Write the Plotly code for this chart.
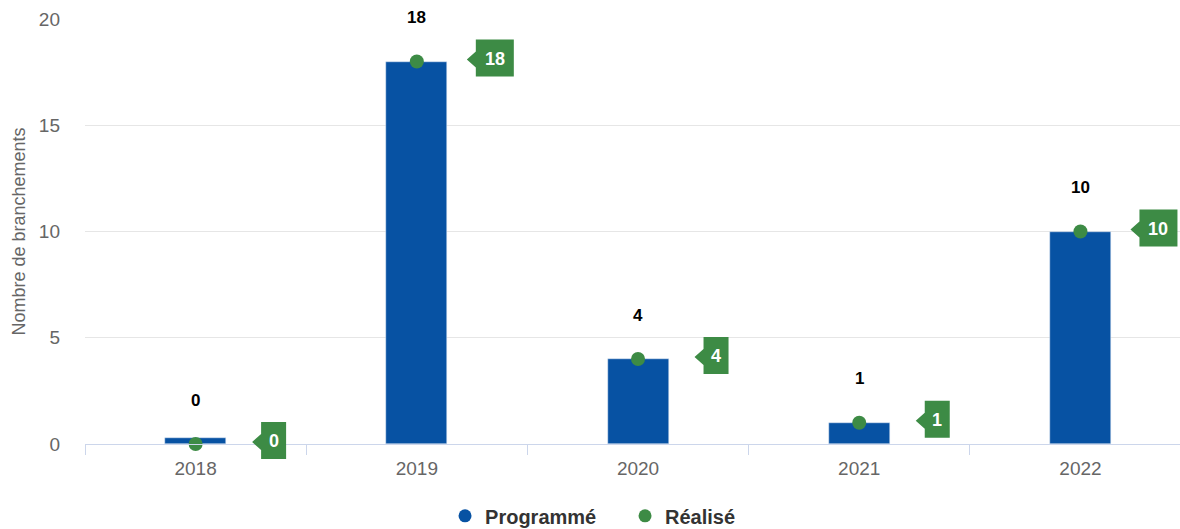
import plotly.graph_objects as go

annees = ["2018", "2019", "2020", "2021", "2022"]
programme = [0, 18, 4, 1, 10]
realise = [0, 18, 4, 1, 10]

bleu = "#0752a3"
vert = "#3d8b45"
police = "Liberation Sans, Arial, sans-serif"

pos = list(range(len(annees)))
x_range = [-0.5, 4.45]
y_range = [0, 20]
# barre minimale visible pour les valeurs nulles (comme Highcharts)
hauteurs = [max(v, 0.3) for v in programme]

fig = go.Figure()

fig.add_trace(go.Bar(
    x=pos, y=hauteurs, name="Programmé", marker_color=bleu,
    width=0.276, showlegend=False, hoverinfo="skip",
))

fig.add_trace(go.Scatter(
    x=pos, y=realise, name="Réalisé", mode="markers",
    marker=dict(color=vert, size=14), showlegend=False, cliponaxis=False,
))

# entrées de légende (symboles ronds)
fig.add_trace(go.Scatter(x=[None], y=[None], mode="markers", name="Programmé",
                         marker=dict(color=bleu, size=13)))
fig.add_trace(go.Scatter(x=[None], y=[None], mode="markers", name="Réalisé",
                         marker=dict(color=vert, size=13)))

for p, v in zip(pos, realise):
    # étiquette noire au-dessus du point
    fig.add_annotation(x=p, y=v, text=f"<b>{v}</b>", showarrow=False, yshift=44,
                       font=dict(family=police, size=17, color="#000000"))
    # étiquette en drapeau à droite du point (repère papier : pas de rognage)
    w = 25 if len(str(v)) == 1 else 38
    x0 = 78 - w / 2
    x1 = 78 + w / 2
    path = (f"M{x0 - 9},2L{x0},10L{x0},22L{x1},22L{x1},-15"
            f"L{x0},-15L{x0},-6Z")
    fx = (p - x_range[0]) / (x_range[1] - x_range[0])
    fy = (v - y_range[0]) / (y_range[1] - y_range[0])
    fig.add_shape(type="path", xref="paper", yref="paper", xsizemode="pixel",
                  ysizemode="pixel", xanchor=fx, yanchor=fy, path=path,
                  fillcolor=vert, line=dict(width=0), layer="above")
    fig.add_annotation(x=p, y=v, text=f"<b>{v}</b>", showarrow=False,
                       xshift=78, yshift=3,
                       font=dict(family=police, size=18, color="#ffffff"))

fig.update_layout(
    width=1180, height=529,
    margin=dict(l=85, r=0, t=19, b=85, autoexpand=False),
    plot_bgcolor="#ffffff", paper_bgcolor="#ffffff",
    font=dict(family=police, size=19, color="#666666"),
    legend=dict(orientation="h", x=0.3288, xanchor="left", y=-0.169,
                yanchor="middle", font=dict(size=20, color="#333333", weight="bold"),
                entrywidth=135, entrywidthmode="pixels"),
    bargap=0,
)

fig.update_xaxes(
    range=x_range, tickvals=pos, ticktext=annees, ticks="",
    minor=dict(ticks="outside", tick0=-0.5, dtick=1, ticklen=10,
               tickcolor="#ccd6eb", showgrid=False),
    ticklabelstandoff=7, automargin=False,
    showline=True, linecolor="#ccd6eb", linewidth=1, showgrid=False,
    zeroline=False, tickfont=dict(size=19, color="#666666"),
)

fig.update_yaxes(
    range=y_range, tickvals=[0, 5, 10, 15, 20], showgrid=True,
    gridcolor="#e6e6e6", zeroline=False, showline=False,
    ticklabelstandoff=24, automargin=False,
    tickfont=dict(size=19, color="#666666"),
    title=dict(text="Nombre de branchements", font=dict(size=18, color="#666666"),
               standoff=8),
)

fig.write_html("out.html", config={"displayModeBar": False},
               post_script="document.body.style.margin='0';")
